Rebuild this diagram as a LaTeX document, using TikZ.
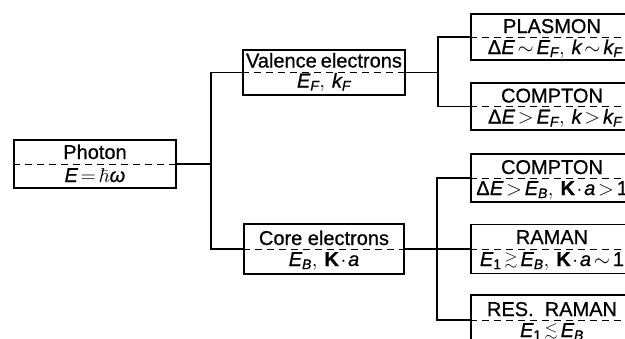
\documentclass[tikz,border=0pt]{standalone}
\usepackage{graphicx}
\usepackage{amssymb}
\usepackage{mathspec}
\setmainfont[FakeBold=0.7]{Liberation Sans}
\setmathsfont(Digits,Latin,Greek)[FakeBold=0.7]{Liberation Sans}
\thickmuskip=2.5mu
\medmuskip=1.5mu
\newcommand{\gsim}{\mathrel{\raisebox{0.15ex}{\scalebox{0.85}[0.8]{$\gtrsim$}}}}
\newcommand{\lsim}{\mathrel{\raisebox{0.15ex}{\scalebox{0.85}[0.8]{$\lesssim$}}}}

\tikzset{
  box/.style={draw, line width=1.7pt, inner sep=0pt},
  split/.style={dash pattern=on 7pt off 5pt, line width=0.9pt},
  toplab/.style={anchor=base, inner sep=0pt, font=\fontsize{20}{22}\selectfont},
  lowlab/.style={anchor=base, inner sep=0pt, font=\fontsize{20}{22}\selectfont},
  wire/.style={line width=1.3pt}
}

\begin{document}
\begin{tikzpicture}[x=1pt,y=-1pt, line join=miter]

% 画面范围
\useasboundingbox (0,0) rectangle (625,338);
\clip (0,0) rectangle (625,338);

% 方框
\node[box, minimum width=162pt, minimum height=48pt] (photon)   at (95,164)    {};
\node[box, minimum width=162pt, minimum height=45pt] (valence)  at (324,72.5)  {};
\node[box, minimum width=160pt, minimum height=50pt] (core)     at (324,249)   {};

\node[box, minimum width=162pt, minimum height=46pt] (plasmon)  at (552,37)    {};
\node[box, minimum width=162pt, minimum height=47pt] (comptonV) at (552,106.5) {};
\node[box, minimum width=162pt, minimum height=48pt] (comptonC) at (552,178)   {};
\node[box, minimum width=162pt, minimum height=49pt] (raman)    at (552,249)   {};
\node[box, minimum width=162pt, minimum height=50pt] (resraman) at (552,320)   {};

% 虚线分隔
\foreach \B in {photon,valence,core,plasmon,comptonV,comptonC,raman,resraman}
  \draw[split] (\B.west) -- (\B.east);

% 连线
\draw[wire] (photon.east) -- ++(34,0) coordinate (jA);
\draw[wire] (valence.west) -| (jA) |- (core.west);

\draw[wire] (valence.east) -- ++(32,0) coordinate (jB);
\draw[wire] (plasmon.west) -| (jB) |- (comptonV.west);

\draw[wire] (core.east) -- (raman.west);
\coordinate (jC) at (437,249);
\draw[wire] (comptonC.west) -| (jC) |- (resraman.west);

% 文字
\node[toplab] (photonT)   at ([yshift=5pt]photon.center)    {Photon};
\node[lowlab] (photonB)   at ([yshift=-18pt]photon.center)  {$E=\hbar\omega$};

\node[toplab] (valenceT)  at ([yshift=5pt]valence.center)   {Valence\hspace{0.2em}electrons};
\node[lowlab] (valenceB)  at ([yshift=-15pt]valence.center) {$E_F,\,k_F$};

\node[toplab] (coreT)     at ([yshift=4pt]core.center)      {Core electrons};
\node[lowlab] (coreB)     at ([yshift=-17pt]core.center)    {$E_B,\,\textbf{K}\cdot a$};

\node[toplab] (plasmonT)  at ([yshift=4pt]plasmon.center)   {PLASMON};
\node[lowlab] (plasmonB)  at ([xshift=3pt,yshift=-17pt]plasmon.center) {$\Delta E\sim E_F,\,k\sim k_F$};

\node[toplab] (comptonVT) at ([yshift=4pt]comptonV.center)  {COMPTON};
\node[lowlab] (comptonVB) at ([xshift=3pt,yshift=-17pt]comptonV.center) {$\Delta E>E_F,\,k>k_F$};

\node[toplab] (comptonCT) at ([yshift=4pt]comptonC.center)  {COMPTON};
\node[lowlab] (comptonCB) at ([yshift=-17pt]comptonC.center) {$\Delta E>E_B,\,\textbf{K}\cdot a>1$};

\node[toplab] (ramanT)    at ([yshift=5pt]raman.center)     {RAMAN};
\node[lowlab] (ramanB)    at ([yshift=-17pt]raman.center)   {$E_1\gsim E_B,\,\textbf{K}\cdot a\sim 1$};

\node[toplab] (resramanT) at ([yshift=4pt]resraman.center)  {RES.\ \ RAMAN};
\node[lowlab] (resramanB) at ([yshift=-17pt]resraman.center) {$E_1\lsim E_B$};

\end{tikzpicture}
\end{document}
